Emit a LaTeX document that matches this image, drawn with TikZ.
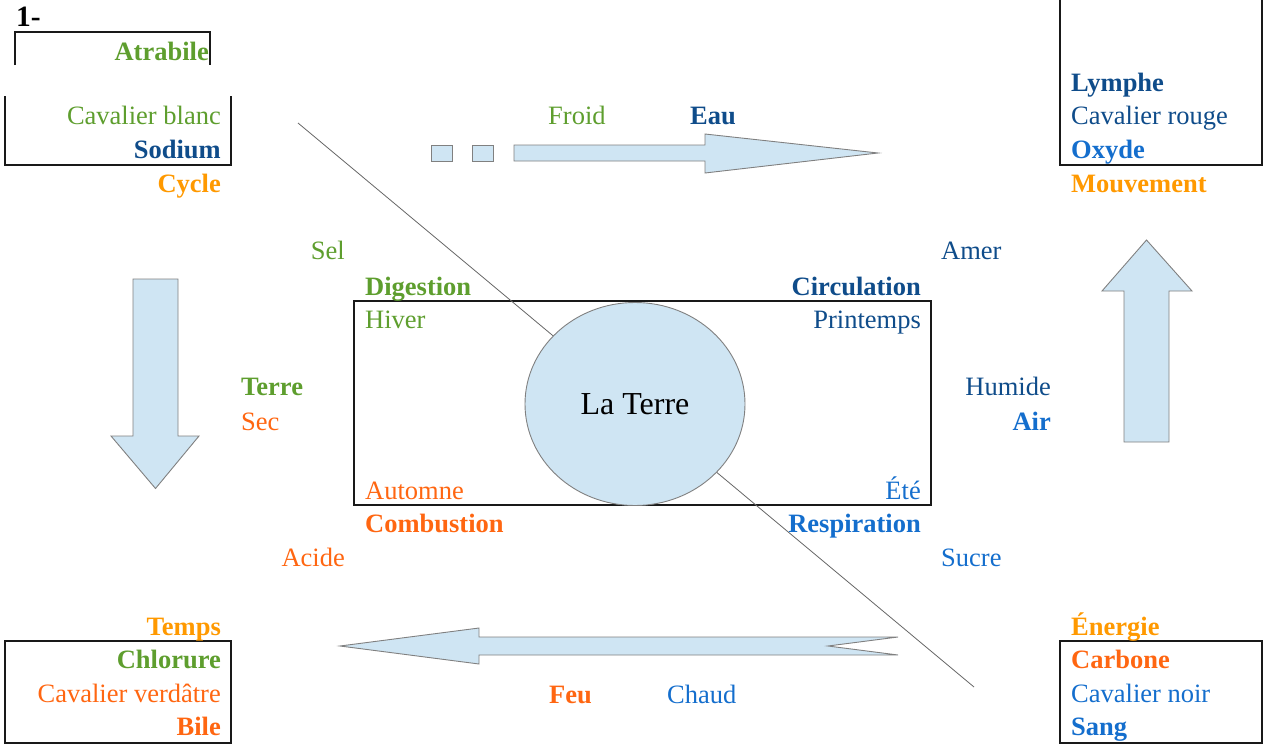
\documentclass[tikz,border=0pt]{standalone}
\usepackage{fontspec}
\setmainfont{Liberation Serif}
\usetikzlibrary{shapes.geometric}
\definecolor{cgreen}{RGB}{94,158,46}
\definecolor{cdblue}{RGB}{15,76,138}
\definecolor{cblue}{RGB}{20,110,205}
\definecolor{cyel}{RGB}{255,153,0}
\definecolor{corg}{RGB}{255,102,17}
\definecolor{afill}{RGB}{207,229,243}
\definecolor{aline}{RGB}{128,128,128}
\tikzset{
  lbl/.style={inner sep=0pt, font=\fontsize{26.5}{30}\selectfont},
  blbl/.style={inner sep=0pt, font=\fontsize{26.5}{30}\selectfont\bfseries},
  boxline/.style={line width=2.2pt, draw=black!90},
  fatarrow/.style={fill=afill, draw=aline, line width=0.9pt, line join=miter},
  diag/.style={draw=black!60, line width=0.8pt},
}
\begin{document}
\begin{tikzpicture}[x=1pt,y=-1pt]
\useasboundingbox (0,0) rectangle (1269,744);

% ---- corner boxes ----
\draw[boxline] (15,65) -- (15,32) -- (210,32) -- (210,65);
\draw[boxline] (5,96) -- (5,165) -- (231,165) -- (231,96);
\draw[boxline] (1060,0) -- (1060,165) -- (1262,165) -- (1262,0);
\draw[boxline] (5,641) rectangle (231,743);
\draw[boxline] (1060,641) rectangle (1262,743);

% ---- top-left texts ----
\node[inner sep=0pt, font=\fontsize{29.5}{32}\selectfont\bfseries, anchor=base west] (n1) at (16,26) {1-};
\node[blbl, anchor=base east, text=cgreen] (atrabile) at (209,60) {Atrabile};
\node[lbl, anchor=base east, text=cgreen] (cblanc) at (221,124) {Cavalier blanc};
\node[blbl, anchor=base east, text=cdblue] (sodium) at (221,158) {Sodium};
\node[blbl, anchor=base east, text=cyel] (cycle) at (221,192) {Cycle};

% ---- top-right texts ----
\node[blbl, anchor=base west, text=cdblue] (lymphe) at (1071,91) {Lymphe};
\node[lbl, anchor=base west, text=cdblue] (crouge) at (1071,124) {Cavalier rouge};
\node[blbl, anchor=base west, text=cblue] (oxyde) at (1071,158) {Oxyde};
\node[blbl, anchor=base west, text=cyel] (mouv) at (1071,192) {Mouvement};

% ---- bottom-left texts ----
\node[blbl, anchor=base east, text=cyel] (temps) at (221,635) {Temps};
\node[blbl, anchor=base east, text=cgreen] (chlorure) at (221,668) {Chlorure};
\node[lbl, anchor=base east, text=corg] (cverd) at (221,702) {Cavalier verdâtre};
\node[blbl, anchor=base east, text=corg] (bile) at (221,735) {Bile};

% ---- bottom-right texts ----
\node[blbl, anchor=base west, text=cyel] (energie) at (1071,635) {Énergie};
\node[blbl, anchor=base west, text=corg] (carbone) at (1071,668) {Carbone};
\node[lbl, anchor=base west, text=cblue] (cnoir) at (1071,702) {Cavalier noir};
\node[blbl, anchor=base west, text=cblue] (sang) at (1071,735) {Sang};

% ---- top arrow ----
\draw[fatarrow] (431,145) rectangle (452,161);
\draw[fatarrow] (472,145) rectangle (493,161);
\draw[fatarrow] (514,145) -- (705,145) -- (705,134) -- (878,153) -- (705,173) -- (705,161) -- (514,161) -- cycle;
\node[lbl, anchor=base west, text=cgreen] (froid) at (548,124) {Froid};
\node[blbl, anchor=base west, text=cdblue] (eau) at (690,124) {Eau};

% ---- bottom arrow ----
\draw[fatarrow] (898,637) -- (479,637) -- (479,628) -- (340,646) -- (479,664) -- (479,655) -- (898,655) -- (828,646) -- cycle;
\node[blbl, anchor=base west, text=corg] (feu) at (549,703) {Feu};
\node[lbl, anchor=base west, text=cblue] (chaud) at (667,703) {Chaud};

% ---- left arrow (down) ----
\draw[fatarrow] (133,279) -- (178,279) -- (178,436) -- (199,436) -- (155.5,488.5) -- (111,436) -- (133,436) -- cycle;
% ---- right arrow (up) ----
\draw[fatarrow] (1124,442) -- (1169,442) -- (1169,291) -- (1192,291) -- (1146.5,240) -- (1102,291) -- (1124,291) -- cycle;

% ---- side texts ----
\node[lbl, anchor=base east, text=cgreen] (sel) at (345,259) {Sel};
\node[blbl, anchor=base west, text=cgreen] (terre) at (241,395) {Terre};
\node[lbl, anchor=base west, text=corg] (sec) at (241,430) {Sec};
\node[lbl, anchor=base east, text=corg] (acide) at (345,566) {Acide};
\node[lbl, anchor=base west, text=cdblue] (amer) at (941,259) {Amer};
\node[lbl, anchor=base east, text=cdblue] (humide) at (1051,395) {Humide};
\node[blbl, anchor=base east, text=cblue] (air) at (1051,430) {Air};
\node[lbl, anchor=base west, text=cblue] (sucre) at (941,566) {Sucre};

% ---- central rectangle, diagonal, earth ----
\node[draw=black!90, line width=2pt, minimum width=577pt, minimum height=204pt, inner sep=0pt] (rect) at (642.5,403) {};
\coordinate (d1) at (298,123);
\coordinate (d2) at (974,687);
\draw[diag] (d1) -- (d2);
\node[ellipse, fill=afill, draw=aline, line width=0.9pt, minimum width=220pt, minimum height=203pt, inner sep=0pt,
      font=\fontsize{32}{34}\selectfont, text depth=0pt, yshift=-2pt] (laterre) at (635,402) {La Terre};

\node[blbl, anchor=base west, text=cgreen] (digestion) at (365,295) {Digestion};
\node[lbl, anchor=base west, text=cgreen] (hiver) at (365,328) {Hiver};
\node[blbl, anchor=base east, text=cdblue] (circulation) at (921,295) {Circulation};
\node[lbl, anchor=base east, text=cdblue] (printemps) at (921,328) {Printemps};
\node[lbl, anchor=base west, text=corg] (automne) at (365,499) {Automne};
\node[lbl, anchor=base east, text=cblue] (ete) at (921,499) {Été};
\node[blbl, anchor=base west, text=corg] (combustion) at (365,532) {Combustion};
\node[blbl, anchor=base east, text=cblue] (respiration) at (921,532) {Respiration};
\end{tikzpicture}
\end{document}
